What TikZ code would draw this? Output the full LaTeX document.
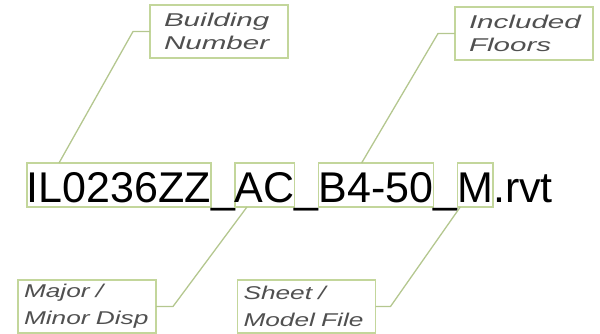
\documentclass[tikz,border=0pt]{standalone}
\usepackage{fontspec}
\setmainfont{Liberation Sans}
\newfontfamily\toptagfont[FakeStretch=1.6]{Liberation Sans}
\newfontfamily\bottagfont[FakeStretch=1.42]{Liberation Sans}
\definecolor{boxgreen}{HTML}{C3D69B}
\definecolor{linegreen}{HTML}{B4C78F}
\definecolor{taggray}{HTML}{505050}

\begin{document}
\begin{tikzpicture}[x=1pt,y=-1pt,
  part/.style={draw=boxgreen,line width=1.5pt,inner sep=0pt,outer sep=0pt,
    text height=39pt,text depth=5pt,font=\fontsize{43}{50}\selectfont},
  bare/.style={inner sep=0pt,outer sep=0pt,text height=39pt,text depth=5pt,
    font=\fontsize{43}{50}\selectfont},
  tag/.style={draw=boxgreen,line width=1.5pt,fill=white,text=taggray,
    align=left,minimum height=53pt,outer sep=0pt},
  toptag/.style={tag,text width=110pt,inner xsep=14pt,
    font=\toptagfont\itshape\fontsize{18.5}{23.5}\selectfont},
  bottag/.style={tag,text width=126pt,inner xsep=6pt,inner ysep=1pt,
    font=\bottagfont\itshape\fontsize{18.5}{27}\selectfont},
  link/.style={draw=linegreen,line width=1.3pt}]
\useasboundingbox (0,0) rectangle (600,334);

% the file name, piece by piece
\node[part,anchor=base west] (bldg) at (27,202) {IL0236ZZ};
\node[bare,anchor=base west] (u1) at (bldg.base east) {\_};
\node[part,anchor=base west] (disc) at (u1.base east) {AC};
\node[bare,anchor=base west] (u2) at (disc.base east) {\_};
\node[part,anchor=base west] (flrs) at (u2.base east) {B4-50};
\node[bare,anchor=base west] (u3) at (flrs.base east) {\_};
\node[part,anchor=base west] (kind) at (u3.base east) {M};
\node[bare,anchor=base west] (ext) at (kind.base east) {.rvt};

% callouts
\node[toptag] (bnum) at (219,31.5) {Building\\Number};
\node[toptag] (incl) at (524,33.5) {Included\\Floors};
\node[bottag] (disp) at (87,306.5) {Major /\\Minor Disp};
\node[bottag] (file) at (306.5,306.5) {Sheet /\\Model File};

\draw[link] (bnum.west) -- ++(-17,0) -- ([xshift=32pt]bldg.north west);
\draw[link] (incl.west) -- ++(-17,0) -- ([xshift=43pt]flrs.north west);
\draw[link] (disp.east) -- ++(17,0) -- ([xshift=12pt]disc.south west);
\draw[link] (file.east) -- ++(15,0) -- ([xshift=3pt]kind.south west);
\end{tikzpicture}
\end{document}
